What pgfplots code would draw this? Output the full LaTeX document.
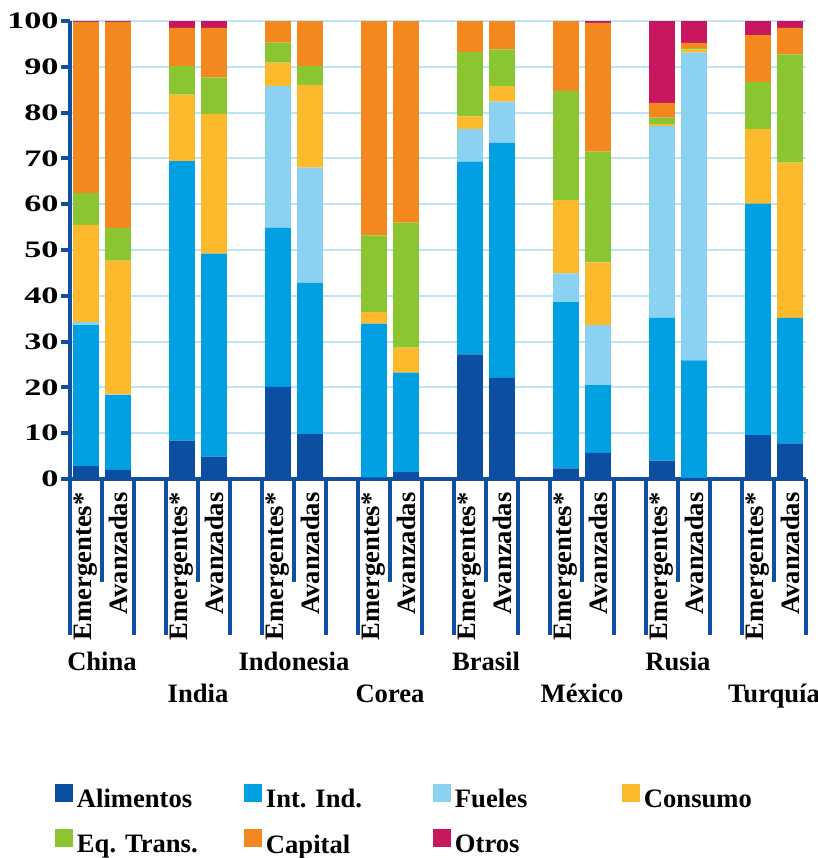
\documentclass[border=0pt]{standalone}
\usepackage{pgfplots}
\pgfplotsset{compat=1.18}
\usepackage{pgfplotstable}
\usepackage{graphicx}
\usepackage{fontspec}
\setmainfont{Liberation Serif}
\definecolor{alim}{RGB}{12,78,162}
\definecolor{intind}{RGB}{0,160,227}
\definecolor{fuel}{RGB}{139,209,242}
\definecolor{cons}{RGB}{253,185,44}
\definecolor{eqt}{RGB}{138,198,49}
\definecolor{cap}{RGB}{243,137,30}
\definecolor{otros}{RGB}{200,23,94}
\definecolor{axisblue}{RGB}{17,80,160}
\definecolor{gridblue}{RGB}{190,228,247}
\newcommand{\lbl}{\bfseries\fontsize{13.3}{15}\selectfont}

\pgfplotstableread{
x  Alim Int  Fuel Cons EqT  Cap  Otros
0  2.8  30.8 0.7  21.2 6.9  37.4 0.2
1  2.0  16.3 0.2  29.2 7.1  45.0 0.2
3  8.4  61.0 0.0  14.5 6.3  8.3  1.5
4  4.9  44.3 0.0  30.5 8.0  10.8 1.5
6  20.1 34.8 30.9 5.1  4.4  4.7  0.0
7  9.8  33.0 25.2 18.0 4.2  9.8  0.0
9  0.3  33.6 0.0  2.6  16.7 46.8 0.0
10 1.5  21.7 0.0  5.5  27.3 44.0 0.0
12 27.2 42.1 7.1  2.8  14.0 6.8  0.0
13 22.1 51.3 9.0  3.4  8.0  6.2  0.0
15 2.3  36.3 6.3  16.0 23.8 15.3 0.0
16 5.7  14.8 13.1 13.7 24.2 28.1 0.4
18 4.0  31.2 41.9 0.4  1.4  3.2  17.9
19 0.2  25.7 67.2 0.7  0.3  1.1  4.8
21 9.6  50.5 0.0  16.3 10.3 10.2 3.1
22 7.8  27.4 0.0  33.9 23.6 5.8  1.5
}\datatable

\begin{document}
\begin{tikzpicture}
\path[use as bounding box] (0,0) rectangle (409pt,429pt);
\begin{axis}[
  at={(35pt,189.5pt)}, anchor=south west,
  scale only axis, width=368pt, height=229pt,
  ybar stacked, bar width=0.8,
  xmin=-0.5, xmax=22.5, ymin=0, ymax=100,
  clip=false,
  axis x line*=bottom, axis y line*=left,
  axis line style={line width=2.2pt, draw=axisblue, -},
  ytick={0,10,...,100},
  ymajorgrids, grid style={line width=1pt, draw=gridblue},
  tick align=outside,
  major tick length=4.5pt,
  ytick style={line width=2pt, draw=axisblue},
  xtick style={draw=none},
  xtick={0,1,3,4,6,7,9,10,12,13,15,16,18,19,21,22},
  xticklabels={Emergentes*,Avanzadas,Emergentes*,Avanzadas,Emergentes*,Avanzadas,Emergentes*,Avanzadas,Emergentes*,Avanzadas,Emergentes*,Avanzadas,Emergentes*,Avanzadas,Emergentes*,Avanzadas},
  xticklabel style={rotate=90, anchor=east, inner sep=0pt, font=\lbl},
  xticklabel shift=2pt,
  /pgf/number format/assume math mode=true,
  yticklabel={\scalebox{1.45}[1]{\pgfmathprintnumber{\tick}}},
  yticklabel style={font=\bfseries\fontsize{11.8}{12}\selectfont, inner sep=0pt, xshift=-1pt},
  mybar/.style={draw=none, legend image code/.code={\fill[##1] (0pt,-1pt) rectangle (9pt,8pt);}},
  legend columns=4,
  legend style={draw=none, fill=none, at={(-0.0204,-0.666)}, anchor=north west,
    inner sep=0pt, outer sep=0pt, row sep=9.3pt, font=\lbl,
    nodes={inner sep=0pt},
    /tikz/every odd column/.style={column sep=2pt}},
]
\addplot[mybar, fill=alim] table[x=x, y=Alim] {\datatable};
\addlegendentry{\makebox[83.5pt][l]{Alimentos}}
\addplot[mybar, fill=intind] table[x=x, y=Int] {\datatable};
\addlegendentry{\makebox[83.5pt][l]{Int. Ind.}}
\addplot[mybar, fill=fuel] table[x=x, y=Fuel] {\datatable};
\addlegendentry{\makebox[83.5pt][l]{Fueles}}
\addplot[mybar, fill=cons] table[x=x, y=Cons] {\datatable};
\addlegendentry{\makebox[83.5pt][l]{Consumo}}
\addplot[mybar, fill=eqt] table[x=x, y=EqT] {\datatable};
\addlegendentry{\makebox[83.5pt][l]{Eq. Trans.}}
\addplot[mybar, fill=cap] table[x=x, y=Cap] {\datatable};
\addlegendentry{\makebox[83.5pt][l]{Capital}}
\addplot[mybar, fill=otros] table[x=x, y=Otros] {\datatable};
\addlegendentry{\makebox[83.5pt][l]{Otros}}

\pgfplotsinvokeforeach{-0.5,1.5,2.5,4.5,5.5,7.5,8.5,10.5,11.5,13.5,14.5,16.5,17.5,19.5,20.5,22.5}{
  \draw[line width=2.2pt, axisblue] (axis cs:#1,0) -- (axis cs:#1,-34.06);
}
\pgfplotsinvokeforeach{0.5,3.5,6.5,9.5,12.5,15.5,18.5,21.5}{
  \draw[line width=2.2pt, axisblue] (axis cs:#1,0) -- (axis cs:#1,-22.5);
}
\node[font=\lbl, anchor=base] at (axis cs:0.5,-41.9) {China};
\node[font=\lbl, anchor=base] at (axis cs:3.5,-48.7) {India};
\node[font=\lbl, anchor=base] at (axis cs:6.5,-41.9) {Indonesia};
\node[font=\lbl, anchor=base] at (axis cs:9.5,-48.7) {Corea};
\node[font=\lbl, anchor=base] at (axis cs:12.5,-41.9) {Brasil};
\node[font=\lbl, anchor=base] at (axis cs:15.5,-48.7) {México};
\node[font=\lbl, anchor=base] at (axis cs:18.5,-41.9) {Rusia};
\node[font=\lbl, anchor=base] at (axis cs:21.5,-48.7) {Turquía};
\end{axis}
\end{tikzpicture}
\end{document}
